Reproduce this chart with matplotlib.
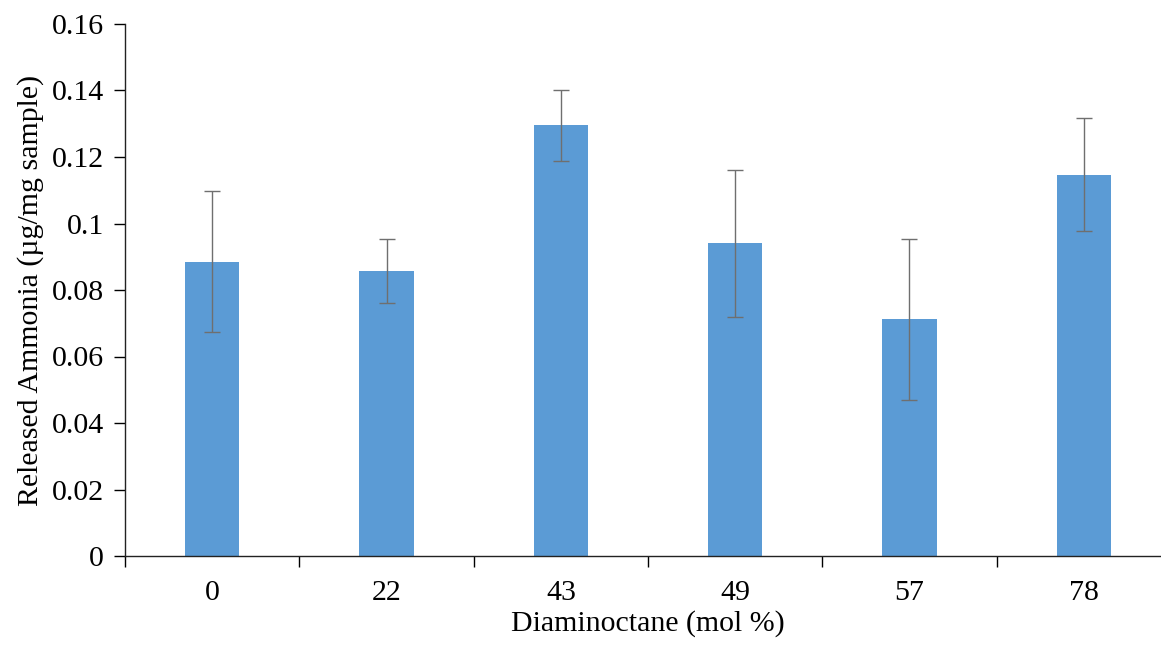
import numpy as np
import matplotlib.pyplot as plt

# data
categories = ['0', '22', '43', '49', '57', '78']
ammonia = [0.0885, 0.0857, 0.1295, 0.0940, 0.0712, 0.1147]
err = [0.0212, 0.0096, 0.0107, 0.0222, 0.0242, 0.0171]
yticks = [0, 0.02, 0.04, 0.06, 0.08, 0.1, 0.12, 0.14, 0.16]
ytick_labels = ['0', '0.02', '0.04', '0.06', '0.08', '0.1', '0.12', '0.14', '0.16']

plt.rcParams['font.family'] = ['Liberation Serif', 'DejaVu Serif']

fig = plt.figure(figsize=(11.61, 6.49), dpi=100)
ax = fig.add_axes([125 / 1161, 93 / 649, 1046 / 1161, 532 / 649])

x = np.arange(len(categories))
ax.bar(x, ammonia, width=0.31, color='#5B9BD5', zorder=2)
ax.errorbar(x, ammonia, yerr=err, fmt='none', ecolor='#6f6f6f', elinewidth=1,
            capsize=6, capthick=1, zorder=3)

ax.set_xlim(-0.5, len(categories) - 0.5)
ax.set_ylim(0, 0.16)
ax.set_yticks(yticks)
ax.set_yticklabels(ytick_labels)
ax.set_xticks(x)
ax.set_xticklabels(categories)
ax.set_xticks(np.arange(-0.5, len(categories)), minor=True)
ax.tick_params(axis='x', which='major', length=0, pad=17, labelsize=21.5)
ax.tick_params(axis='x', which='minor', length=8, width=1, direction='out')
ax.tick_params(axis='y', length=8, width=1, direction='out', labelsize=21.5, pad=7)

for s in ['top', 'right']:
    ax.spines[s].set_visible(False)
for s in ['left', 'bottom']:
    ax.spines[s].set_linewidth(1)
    ax.spines[s].set_color('#222222')

ax.set_xlabel('Diaminoctane (mol %)', fontsize=21.5, labelpad=3)
ax.set_ylabel('Released Ammonia (µg/mg sample)', fontsize=21.5, labelpad=6)

fig.savefig('out.png', dpi=100)
